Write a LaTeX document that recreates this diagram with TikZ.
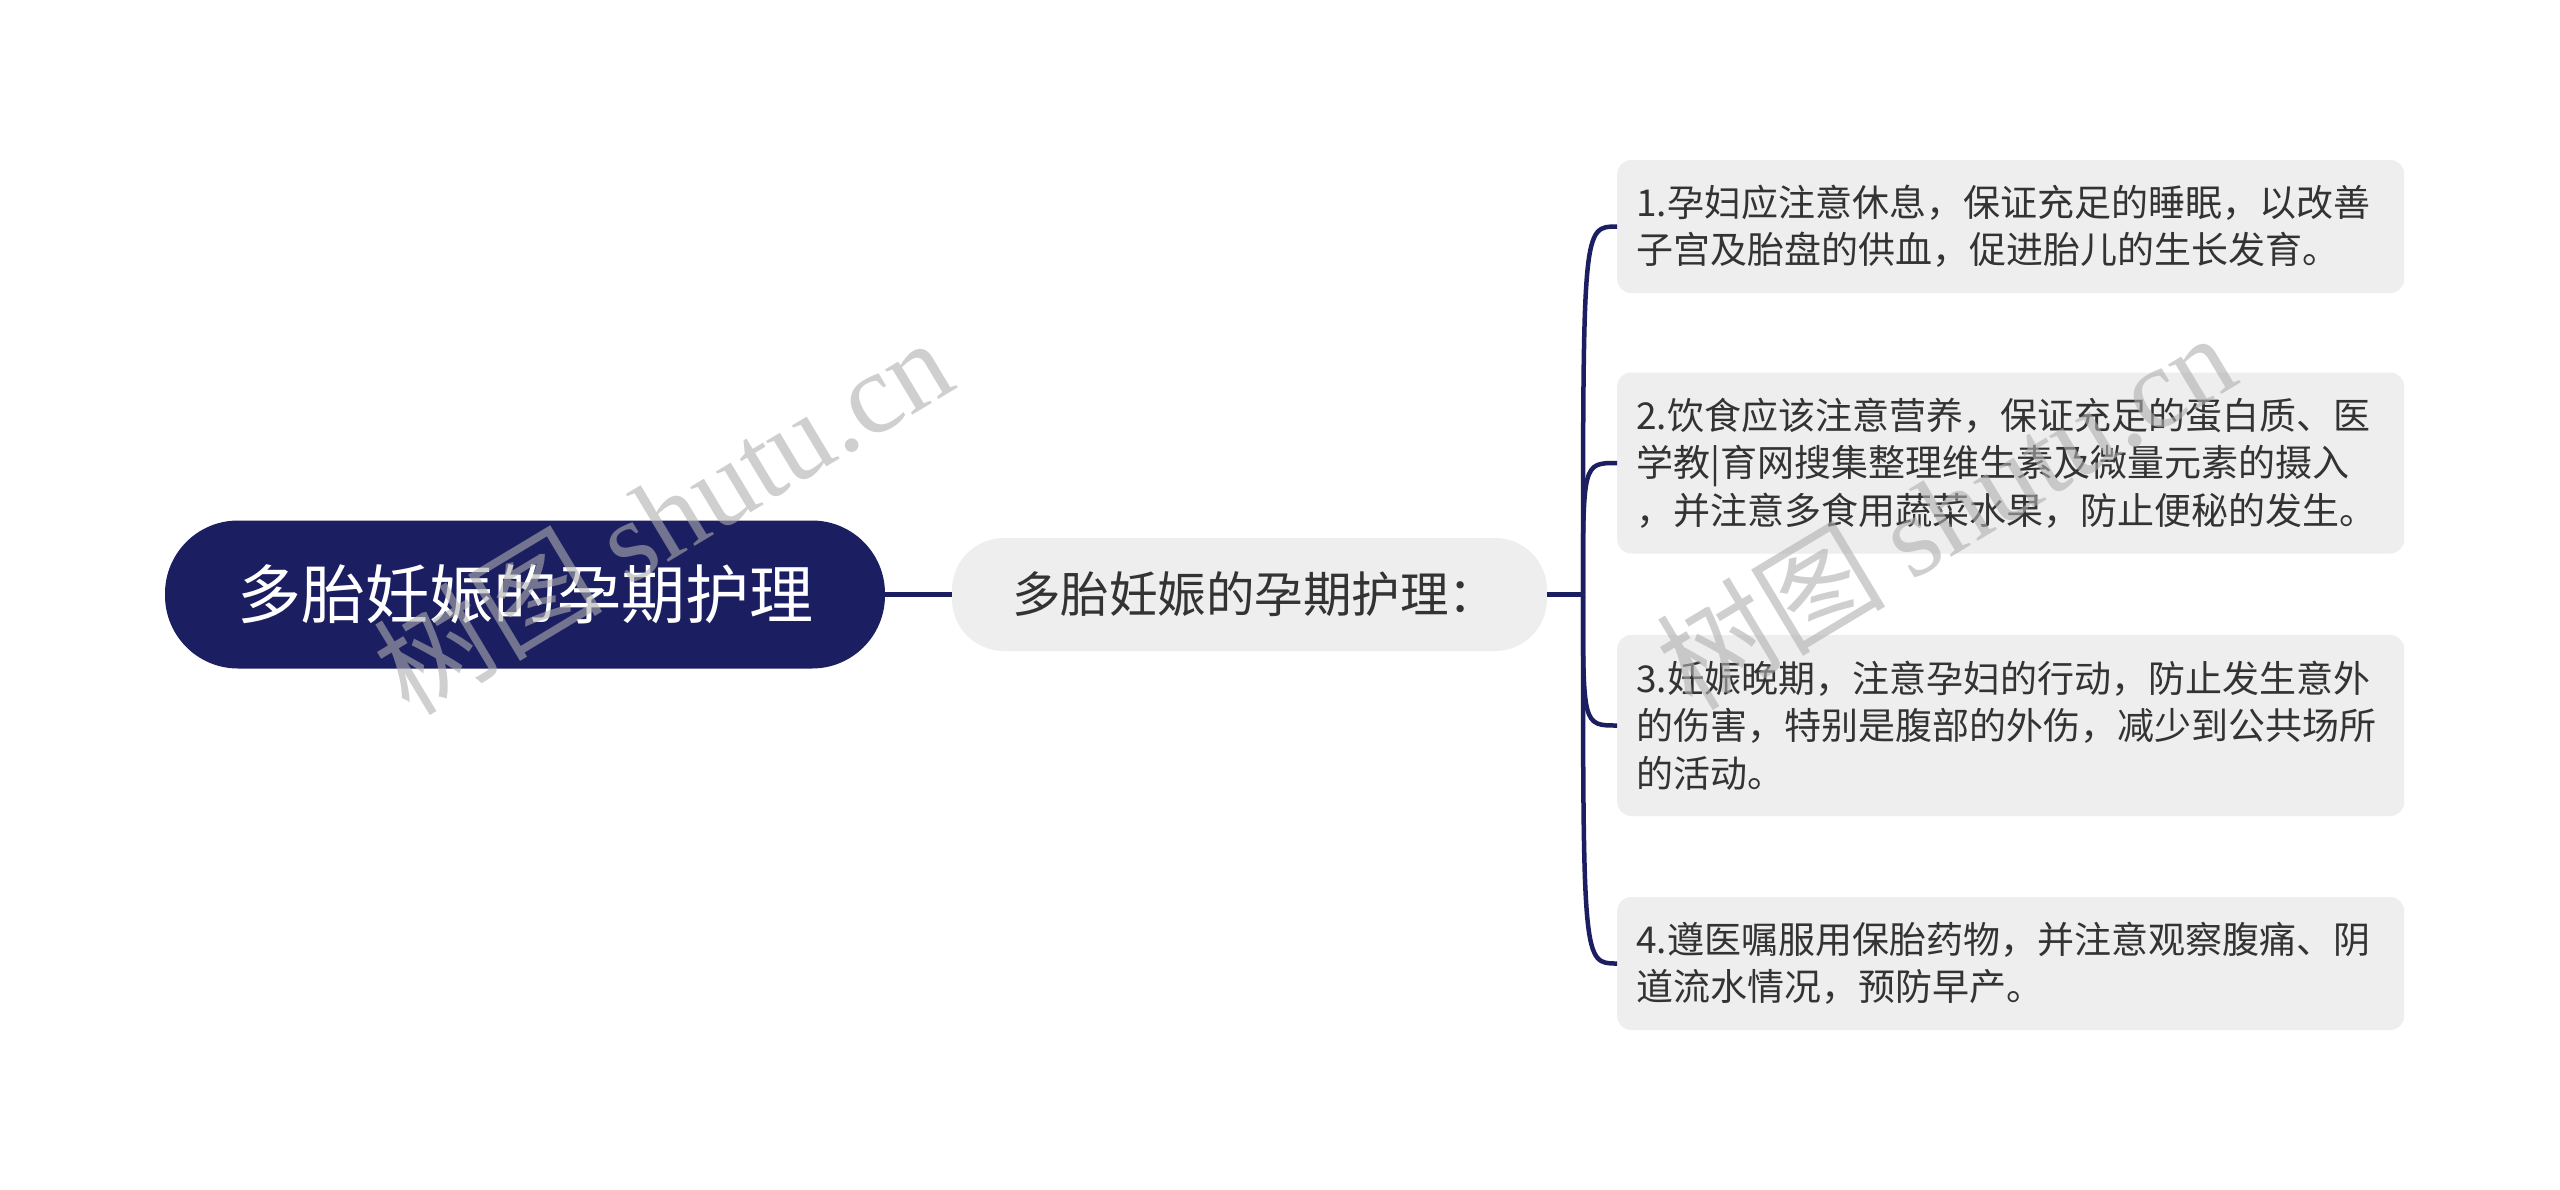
\documentclass[tikz,border=0pt]{standalone}
\usepackage{fontspec}
\setmainfont{Noto Sans CJK SC}
\newfontfamily\wmlatin{Liberation Serif}
\newfontfamily\wmcjk{Noto Sans CJK SC}
\definecolor{navy}{RGB}{27,31,98}
\definecolor{boxgray}{RGB}{238,238,238}
\definecolor{txtgray}{RGB}{51,51,51}
\definecolor{wmgray}{RGB}{175,175,175}
\begin{document}
\begin{tikzpicture}[x=1pt,y=-1pt,
  rootbox/.style={fill=navy, rounded corners=73pt, minimum width=720pt, minimum height=148pt,
    text=white, font=\fontsize{64pt}{76pt}\selectfont, inner sep=0pt},
  midbox/.style={fill=boxgray, rounded corners=52pt, minimum height=113pt, text width=475pt,
    inner xsep=60pt, inner ysep=0pt, align=left, text=txtgray, font=\fontsize{48.5pt}{58pt}\selectfont},
  leafbox/.style={fill=boxgray, rounded corners=14pt, text width=749pt, inner xsep=19pt,
    inner ysep=0pt, align=left, text=txtgray, font=\fontsize{37pt}{47.5pt}\selectfont, anchor=west},
  link/.style={draw=navy, line width=4.5pt},
  wmark/.style={text=wmgray, opacity=0.6, font=\fontsize{115pt}{125pt}\selectfont, inner sep=0pt}
]
\fill[white] (0,0) rectangle (2560,1189);
\useasboundingbox (0,0) rectangle (2560,1189);

\node[rootbox] (root) at (525,594.5) {多胎妊娠的孕期护理};
\node[midbox] (mid) at (1249.5,594.5) {多胎妊娠的孕期护理：};

\node[leafbox, minimum height=133pt] (l1) at (1617,226.5)
  {1.孕妇应注意休息，保证充足的睡眠，以改善\\子宫及胎盘的供血，促进胎儿的生长发育。};
\node[leafbox, minimum height=181pt] (l2) at (1617,463)
  {2.饮食应该注意营养，保证充足的蛋白质、医\\学教|育网搜集整理维生素及微量元素的摄入\\，并注意多食用蔬菜水果，防止便秘的发生。};
\node[leafbox, minimum height=181pt] (l3) at (1617,725.5)
  {3.妊娠晚期，注意孕妇的行动，防止发生意外\\的伤害，特别是腹部的外伤，减少到公共场所\\的活动。};
\node[leafbox, minimum height=133pt] (l4) at (1617,963.5)
  {4.遵医嘱服用保胎药物，并注意观察腹痛、阴\\道流水情况，预防早产。};

\coordinate (hub) at (1583,594.5);
\draw[link] (root.east) -- (mid.west);
\draw[link] (mid.east) -- (hub);
\foreach \n in {l1,l2,l3,l4}{
  \draw[link] (hub) .. controls (hub |- \n.west) .. (\n.west);
}

\node[wmark, rotate=31] (wm1) at (662,515) {\wmcjk 树图\ \wmlatin shutu.cn};
\node[wmark, rotate=31] (wm2) at (1945,510) {\wmcjk 树图\ \wmlatin shutu.cn};
\end{tikzpicture}
\end{document}
